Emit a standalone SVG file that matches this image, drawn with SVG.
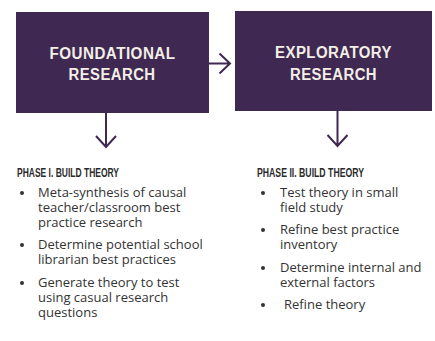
<svg xmlns="http://www.w3.org/2000/svg" width="435" height="341" viewBox="0 0 435 341">
<style>
.box{fill:#3f2852}
.title{font-family:"Liberation Sans",Arial,sans-serif;font-weight:bold;font-size:16px;fill:#f3efe6;text-anchor:middle;letter-spacing:0.5px}
.head{font-family:"Liberation Sans",Arial,sans-serif;font-weight:bold;font-size:12px;fill:#2b2b2b}
.body{font-family:"Open Sans","Liberation Sans",sans-serif;font-size:13px;fill:#333}
.bullet{fill:#333}
.conn{stroke:#3f2852;stroke-width:2;fill:none}
</style>
<rect width="435" height="341" fill="#ffffff"/>
<g id="foundational">
<rect class="box" x="16" y="12" width="193" height="101"/>
<text class="title" x="112.5" y="59" textLength="126" lengthAdjust="spacingAndGlyphs">FOUNDATIONAL</text>
<text class="title" x="112" y="80" textLength="87" lengthAdjust="spacingAndGlyphs">RESEARCH</text>
</g>
<g id="exploratory">
<rect class="box" x="235" y="11" width="197" height="100"/>
<text class="title" x="333.5" y="58" textLength="117" lengthAdjust="spacingAndGlyphs">EXPLORATORY</text>
<text class="title" x="333.5" y="80" textLength="87" lengthAdjust="spacingAndGlyphs">RESEARCH</text>
</g>
<g id="connectors">
<path class="conn" d="M209 63.5H230M219.5 53.5L230 63.5L219.5 73.5"/>
<path class="conn" d="M106 113V147M96 136L106 147L116 136"/>
<path class="conn" d="M337.5 111V146M327.5 135L337.5 146L347.5 135"/>
</g>
<g id="phase1">
<text class="head" x="17" y="177" textLength="102" lengthAdjust="spacingAndGlyphs">PHASE I. BUILD THEORY</text>
<circle class="bullet" cx="22" cy="193" r="2"/>
<circle class="bullet" cx="22" cy="245" r="2"/>
<circle class="bullet" cx="22" cy="283" r="2"/>
<text class="body" x="38" y="197">Meta-synthesis of causal</text>
<text class="body" x="38" y="212">teacher/classroom best</text>
<text class="body" x="38" y="227">practice research</text>
<text class="body" x="38" y="249">Determine potential school</text>
<text class="body" x="38" y="264">librarian best practices</text>
<text class="body" x="38" y="287">Generate theory to test</text>
<text class="body" x="38" y="302">using casual research</text>
<text class="body" x="38" y="317">questions</text>
</g>
<g id="phase2">
<text class="head" x="257" y="177" textLength="107" lengthAdjust="spacingAndGlyphs">PHASE II. BUILD THEORY</text>
<circle class="bullet" cx="263" cy="193" r="2"/>
<circle class="bullet" cx="263" cy="230" r="2"/>
<circle class="bullet" cx="263" cy="268" r="2"/>
<circle class="bullet" cx="263" cy="305" r="2"/>
<text class="body" x="280" y="197">Test theory in small</text>
<text class="body" x="280" y="212">field study</text>
<text class="body" x="280" y="234">Refine best practice</text>
<text class="body" x="280" y="249">inventory</text>
<text class="body" x="280" y="272">Determine internal and</text>
<text class="body" x="280" y="287">external factors</text>
<text class="body" x="284" y="309">Refine theory</text>
</g>
</svg>
